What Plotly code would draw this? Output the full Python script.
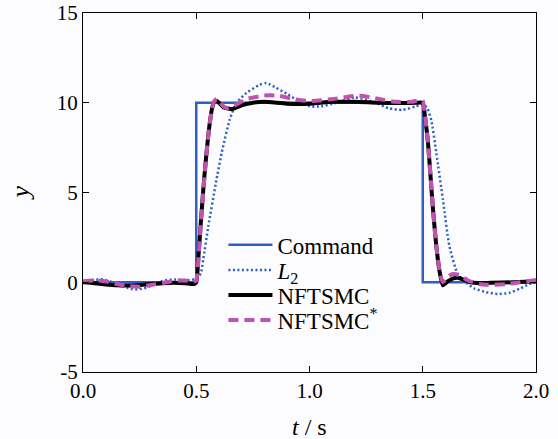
import plotly.graph_objects as go

# ---- data ----
cmd_t = [0.0, 0.5, 0.5, 1.5, 1.5, 2.0]
cmd_y = [0.0, 0.0, 10.0, 10.0, 0.0, 0.0]

l2_t = [0.0, 0.05, 0.08, 0.12, 0.17, 0.2, 0.24, 0.28, 0.32, 0.36, 0.41, 0.45, 0.5,
        0.52, 0.531, 0.553, 0.587, 0.612, 0.648, 0.678, 0.722, 0.78, 0.81, 0.85,
        0.9, 0.95, 1.0, 1.05, 1.12, 1.2, 1.28, 1.35, 1.41, 1.47, 1.5, 1.52, 1.538,
        1.56, 1.589, 1.618, 1.655, 1.69, 1.728, 1.78, 1.83, 1.88, 1.93, 1.97, 2.0]
l2_y = [0.05, 0.12, 0.17, 0.05, -0.2, -0.33, -0.4, -0.3, -0.1, 0.1, 0.15, 0.1, 0.2,
        0.5, 1.28, 3.1, 5.55, 7.2, 9.07, 10.0, 10.55, 11.0, 11.1, 10.85,
        10.5, 10.1, 9.8, 9.8, 10.0, 10.3, 10.05, 9.7, 9.6, 9.8, 9.9, 9.7, 9.0,
        7.2, 4.6, 2.0, 0.45, 0.0, -0.35, -0.55, -0.65, -0.6, -0.35, -0.1, 0.0]

nf_t = [0.0, 0.05, 0.1, 0.15, 0.2, 0.25, 0.3, 0.35, 0.4, 0.45, 0.49, 0.5, 0.51,
        0.52, 0.53, 0.54, 0.55, 0.56, 0.57, 0.58, 0.59, 0.6, 0.62, 0.66, 0.7,
        0.75, 0.8, 0.9, 1.0, 1.1, 1.2, 1.3, 1.4, 1.47, 1.5, 1.51, 1.523, 1.535,
        1.545, 1.56, 1.575, 1.589, 1.61, 1.635, 1.655, 1.68, 1.71, 1.75, 1.8,
        1.9, 2.0]
nf_y = [0.0, -0.05, -0.12, -0.17, -0.18, -0.15, -0.1, -0.05, -0.03, -0.05, -0.1,
        0.0, 1.5, 3.3, 5.0, 6.5, 7.8, 8.9, 9.7, 10.05, 10.1, 10.0, 9.75, 9.65,
        9.85, 10.0, 10.05, 9.95, 9.95, 10.05, 10.05, 10.0, 9.98, 10.0, 10.0,
        9.2, 7.8, 5.8, 4.1, 2.0, 0.55, -0.17, 0.05, 0.22, 0.25, 0.15, 0.0,
        -0.05, -0.03, 0.0, 0.05]

nfs_t = [0.0, 0.05, 0.1, 0.15, 0.2, 0.25, 0.3, 0.35, 0.4, 0.45, 0.49, 0.5, 0.51,
         0.52, 0.53, 0.54, 0.55, 0.56, 0.57, 0.58, 0.59, 0.6, 0.62, 0.64, 0.67,
         0.72, 0.8, 0.86, 0.93, 1.0, 1.1, 1.22, 1.29, 1.38, 1.45, 1.49, 1.5,
         1.51, 1.523, 1.535, 1.545, 1.56, 1.575, 1.589, 1.61, 1.63, 1.66, 1.7,
         1.75, 1.8, 1.87, 1.93, 2.0]
nfs_y = [0.05, 0.12, 0.05, -0.1, -0.22, -0.25, -0.15, -0.05, 0.08, 0.1, 0.05,
         0.1, 1.4, 3.2, 4.9, 6.4, 7.8, 8.9, 9.7, 10.1, 10.2, 10.1, 9.8, 9.7,
         9.85, 10.2, 10.4, 10.4, 10.2, 10.1, 10.2, 10.4, 10.25, 10.05, 10.05,
         10.15, 10.1, 9.3, 7.8, 5.8, 4.1, 2.0, 0.6, 0.0, 0.3, 0.45, 0.4, 0.1,
         -0.1, -0.15, -0.1, 0.0, 0.12]

x_ticks = [0.0, 0.5, 1.0, 1.5, 2.0]
x_tick_labels = ["0.0", "0.5", "1.0", "1.5", "2.0"]
y_ticks = [-5, 0, 5, 10, 15]
y_tick_labels = ["-5", "0", "5", "10", "15"]

BLUE = "#2f5fbf"
MAG = "#c052b0"
FONT = "Times New Roman, Liberation Serif, serif"

fig = go.Figure()
fig.add_trace(go.Scatter(x=cmd_t, y=cmd_y, mode="lines", name="Command",
                         legend="legend", line=dict(color=BLUE, width=2.5)))
fig.add_trace(go.Scatter(x=l2_t, y=l2_y, mode="lines", name="<i>L</i><sub>2</sub>",
                         legend="legend2",
                         line=dict(color=BLUE, width=2.5, dash="2px,2.5px",
                                   shape="spline", smoothing=0.6)))
fig.add_trace(go.Scatter(x=nf_t, y=nf_y, mode="lines", name="NFTSMC",
                         legend="legend3",
                         line=dict(color="black", width=4, shape="spline",
                                   smoothing=0.5)))
fig.add_trace(go.Scatter(x=nfs_t, y=nfs_y, mode="lines", name="NFTSMC<sup>*</sup>",
                         legend="legend4",
                         line=dict(color=MAG, width=4, dash="10px,6px",
                                   shape="spline", smoothing=0.5)))

axis_common = dict(showline=True, linecolor="black", linewidth=1, mirror="ticks",
                   ticks="inside", ticklen=6, tickcolor="black", showgrid=False,
                   zeroline=False, automargin=False,
                   tickfont=dict(family=FONT, size=21, color="black"))


def leg(yc):
    return dict(x=0.31, y=yc, xanchor="left", yanchor="middle", itemwidth=44,
                bgcolor="rgba(0,0,0,0)", font=dict(family=FONT, size=23))


fig.update_layout(
    width=558, height=439,
    margin=dict(l=83, r=22, t=13, b=67),
    paper_bgcolor="#fcfcfe", plot_bgcolor="#fcfcfe",
    font=dict(family=FONT, color="black"),
    xaxis=dict(range=[0, 2], tickvals=x_ticks, ticktext=x_tick_labels, **axis_common),
    yaxis=dict(range=[-5, 15], tickvals=y_ticks, ticktext=y_tick_labels,
               **axis_common),
    legend=leg(0.354),
    legend2=leg(0.284),
    legend3=leg(0.214),
    legend4=leg(0.145),
    showlegend=True,
    annotations=[
        dict(text="<i>t</i> / s", xref="paper", yref="paper", x=0.5, y=-0.153,
             xanchor="center", yanchor="middle", showarrow=False,
             font=dict(family=FONT, size=24)),
        dict(text="<i>y</i>", xref="paper", yref="paper", x=-0.137, y=0.5,
             xanchor="center", yanchor="middle", showarrow=False, textangle=-90,
             font=dict(family=FONT, size=26)),
    ],
)

fig.write_html("out.html", config={"displayModeBar": False},
               post_script="document.body.style.margin='0px';")
